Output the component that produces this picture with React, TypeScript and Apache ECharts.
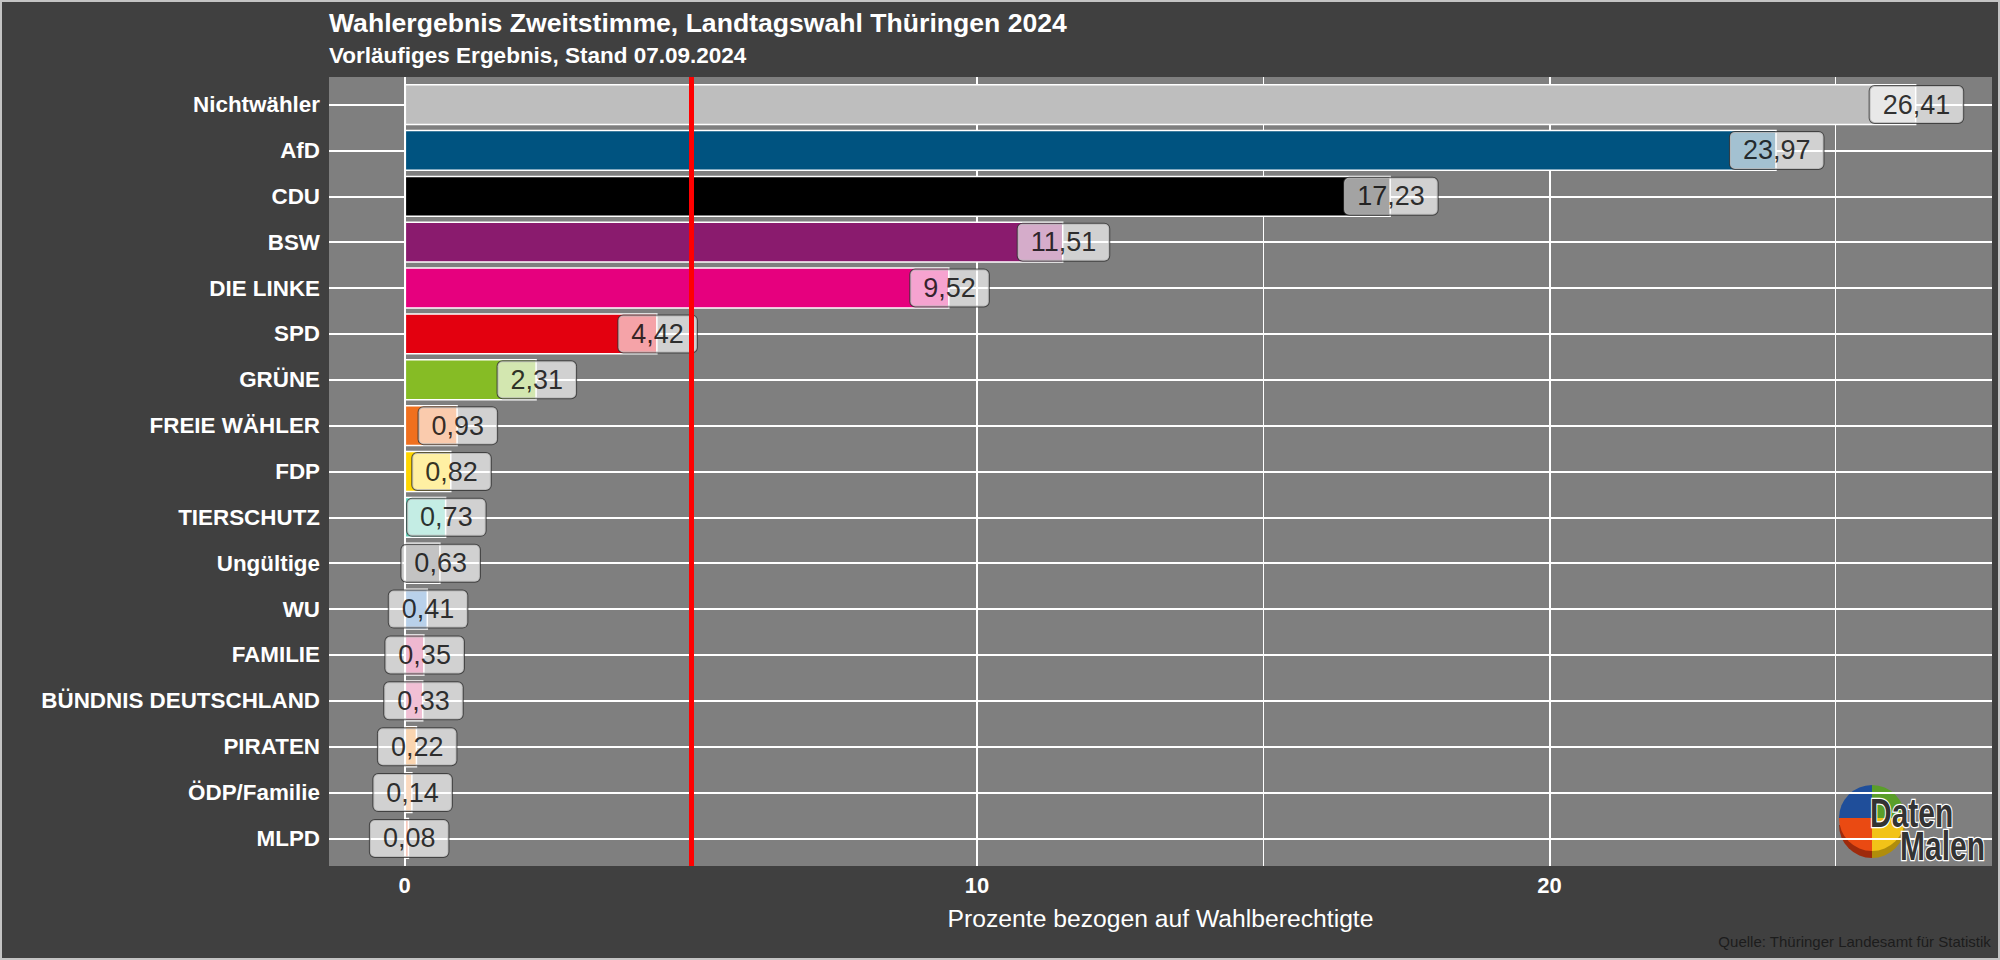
import React, { useEffect, useRef } from "react";
import * as echarts from "echarts";

const categories = [
  "Nichtwähler",
  "AfD",
  "CDU",
  "BSW",
  "DIE LINKE",
  "SPD",
  "GRÜNE",
  "FREIE WÄHLER",
  "FDP",
  "TIERSCHUTZ",
  "Ungültige",
  "WU",
  "FAMILIE",
  "BÜNDNIS DEUTSCHLAND",
  "PIRATEN",
  "ÖDP/Familie",
  "MLPD",
];
const values = [26.41, 23.97, 17.23, 11.51, 9.52, 4.42, 2.31, 0.93, 0.82, 0.73, 0.63, 0.41, 0.35, 0.33, 0.22, 0.14, 0.08];
const barColors = [
  "#bebebe",
  "#005380",
  "#000000",
  "#8a1b6e",
  "#e6007e",
  "#e3000f",
  "#86bc25",
  "#f0701e",
  "#ffd600",
  "#5ccdb4",
  "#5a5a5a",
  "#3d7fc4",
  "#d23c7c",
  "#d8508c",
  "#f08a24",
  "#f29a50",
  "#e8603c",
];
const xTickLabels = [0, 10, 20];
const xMinorLines = [5, 15, 25];
const thresholdLine = 5;
const xMin = -1.3205;
const xMax = 27.7305;

const titleText = "Wahlergebnis Zweitstimme, Landtagswahl Thüringen 2024";
const subtitleText = "Vorläufiges Ergebnis, Stand 07.09.2024";
const axisTitle = "Prozente bezogen auf Wahlberechtigte";
const sourceText = "Quelle: Thüringer Landesamt für Statistik";

const FONT = "'Liberation Sans', Arial, Helvetica, sans-serif";

export default function App() {
  const ref = useRef<HTMLDivElement>(null);

  useEffect(() => {
    if (!ref.current) return;
    const chart = echarts.init(ref.current, null, { renderer: "svg" });

    const panelTop = 77;
    const panelBottom = 866;
    const band = (panelBottom - panelTop) / (categories.length - 1 + 1.2);
    const barGridTop = panelTop + 0.1 * band;
    const barGridBottom = panelBottom - 0.1 * band;

    const option: any = {
      animation: false,
      backgroundColor: "#404040",
      title: [
        {
          text: titleText,
          left: 329,
          top: 9,
          padding: 0,
          textStyle: { color: "#ffffff", fontSize: 26.6, fontWeight: "bold", fontFamily: FONT },
        },
        {
          text: subtitleText,
          left: 329,
          top: 44,
          padding: 0,
          textStyle: { color: "#ffffff", fontSize: 22.5, fontWeight: "bold", fontFamily: FONT },
        },
      ],
      grid: [
        {
          left: 329,
          right: 8,
          top: panelTop,
          bottom: 960 - panelBottom,
          show: true,
          backgroundColor: "#7f7f7f",
          borderWidth: 0,
        },
        {
          left: 329,
          right: 8,
          top: barGridTop,
          bottom: 960 - barGridBottom,
          show: false,
        },
      ],
      xAxis: [
        {
          type: "value",
          gridIndex: 0,
          min: xMin,
          max: xMax,
          splitLine: { show: false },
          axisLine: { show: false },
          axisTick: { show: false },
          axisLabel: {
            customValues: xTickLabels,
            color: "#ffffff",
            fontSize: 22,
            fontWeight: "bold",
            fontFamily: FONT,
            margin: 8,
          },
          name: axisTitle,
          nameLocation: "middle",
          nameGap: 40,
          nameTextStyle: { color: "#ffffff", fontSize: 24.7, fontFamily: FONT },
        },
        {
          type: "value",
          gridIndex: 1,
          min: xMin,
          max: xMax,
          show: false,
          splitLine: { show: false },
        },
      ],
      yAxis: [
        {
          type: "value",
          gridIndex: 0,
          min: 0,
          max: 1,
          show: false,
          splitLine: { show: false },
        },
        {
          type: "category",
          gridIndex: 1,
          data: categories,
          inverse: true,
          axisLine: { show: false },
          axisTick: { show: false },
          splitLine: { show: false },
          axisLabel: {
            color: "#ffffff",
            fontSize: 22.4,
            fontWeight: "bold",
            fontFamily: FONT,
            margin: 9,
          },
        },
      ],
      series: [
        {
          type: "line",
          xAxisIndex: 0,
          yAxisIndex: 0,
          data: [],
          z: 1,
          silent: true,
          markLine: {
            z: 1,
            silent: true,
            symbol: ["none", "none"],
            label: { show: false },
            animation: false,
            data: [
              ...xTickLabels.map((v) => ({ xAxis: v, lineStyle: { color: "#ffffff", width: 2, type: "solid" } })),
              ...xMinorLines.map((v) => ({ xAxis: v, lineStyle: { color: "#ffffff", width: 1, type: "solid" } })),
            ],
          },
        },
        {
          type: "line",
          xAxisIndex: 1,
          yAxisIndex: 1,
          data: [],
          z: 1,
          silent: true,
          markLine: {
            z: 1,
            silent: true,
            symbol: ["none", "none"],
            label: { show: false },
            animation: false,
            data: categories.map((_, i) => ({ yAxis: i, lineStyle: { color: "#ffffff", width: 2, type: "solid" } })),
          },
        },
        {
          type: "bar",
          xAxisIndex: 1,
          yAxisIndex: 1,
          barWidth: "90%",
          z: 2,
          data: values.map((v, i) => ({
            value: v,
            itemStyle: { color: barColors[i], borderColor: "#ffffff", borderWidth: 1.5 },
          })),
        },
        {
          type: "scatter",
          xAxisIndex: 1,
          yAxisIndex: 1,
          z: 4,
          symbolSize: 1,
          itemStyle: { color: "rgba(0,0,0,0)" },
          data: values.map((v, i) => [v, categories[i]]),
          label: {
            show: true,
            position: "inside",
            formatter: (p: any) => Number(p.value[0]).toFixed(2).replace(".", ","),
            color: "#000000",
            fontSize: 27,
            lineHeight: 29,
            fontFamily: FONT,
            backgroundColor: "rgba(255,255,255,0.8)",
            borderColor: "#333333",
            borderWidth: 1,
            borderRadius: 5,
            padding: [4, 13, 4, 13],
          },
        },
        {
          type: "line",
          xAxisIndex: 0,
          yAxisIndex: 0,
          data: [],
          z: 6,
          silent: true,
          markLine: {
            z: 6,
            silent: true,
            symbol: ["none", "none"],
            label: { show: false },
            animation: false,
            data: [{ xAxis: thresholdLine, lineStyle: { color: "#ff0000", width: 5, type: "solid" } }],
          },
        },
      ],
      graphic: [
        {
          type: "rect",
          silent: true,
          z: 100,
          shape: { x: 1, y: 1, width: 1998, height: 958 },
          style: { fill: "none", stroke: "#c4c4c4", lineWidth: 2 },
        },
        {
          type: "text",
          right: 9,
          top: 934,
          style: { text: sourceText, fill: "#1c1c1c", font: `15px ${FONT}` },
        },
        {
          type: "group",
          x: 1872,
          y: 818,
          z: 50,
          children: [
            { type: "sector", shape: { cx: 0, cy: 7, r: 33, startAngle: Math.PI / 2, endAngle: Math.PI }, style: { fill: "#9e2a0c" } },
            { type: "sector", shape: { cx: 0, cy: 7, r: 33, startAngle: 0, endAngle: Math.PI / 2 }, style: { fill: "#b08d0c" } },
            { type: "sector", shape: { cx: 0, cy: 0, r: 33, startAngle: Math.PI, endAngle: Math.PI * 1.5 }, style: { fill: "#1f4e9a" } },
            { type: "sector", shape: { cx: 0, cy: 0, r: 33, startAngle: Math.PI * 1.5, endAngle: Math.PI * 2 }, style: { fill: "#5a9e2a" } },
            { type: "sector", shape: { cx: 0, cy: 0, r: 33, startAngle: 0, endAngle: Math.PI / 2 }, style: { fill: "#f2c318" } },
            { type: "sector", shape: { cx: 0, cy: 0, r: 33, startAngle: Math.PI / 2, endAngle: Math.PI }, style: { fill: "#ea4a12" } },
          ],
        },
        {
          type: "text",
          x: 1870,
          y: 813,
          scaleX: 0.75,
          z: 51,
          style: {
            text: "Daten",
            font: `bold 40px ${FONT}`,
            fill: "#333333",
            stroke: "#ffffff",
            lineWidth: 2.5,
            textVerticalAlign: "middle",
          },
        },
        {
          type: "text",
          x: 1900,
          y: 846,
          scaleX: 0.75,
          z: 51,
          style: {
            text: "Malen",
            font: `bold 40px ${FONT}`,
            fill: "#333333",
            stroke: "#ffffff",
            lineWidth: 2.5,
            textVerticalAlign: "middle",
          },
        },
      ],
    };

    chart.setOption(option);
    return () => chart.dispose();
  }, []);

  return <div ref={ref} style={{ position: "fixed", left: 0, top: 0, width: 2000, height: 960 }} />;
}
